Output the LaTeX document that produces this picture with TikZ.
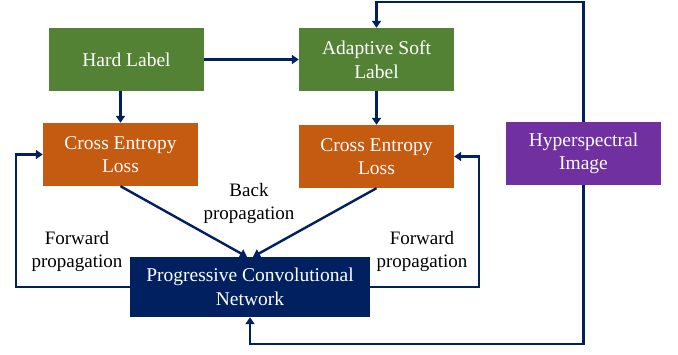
\documentclass[tikz,border=0pt]{standalone}
\usepackage{fontspec}
\setmainfont{Liberation Serif}
\usetikzlibrary{arrows.meta}
\definecolor{labelGreen}{RGB}{84, 130, 53}
\definecolor{lossOrange}{RGB}{197, 90, 17}
\definecolor{hsiPurple}{RGB}{112, 48, 160}
\definecolor{netNavy}{RGB}{0, 32, 96}

\begin{document}
\begin{tikzpicture}[x=1pt, y=-1pt,
    box/.style={text=white, align=center, inner sep=0pt, minimum width=155pt, minimum height=63pt, font=\fontsize{19.5}{23.5}\selectfont},
    flow/.style={netNavy, line width=2.4pt, -{Triangle[width=9pt,length=7pt]}},
    note/.style={align=center, font=\fontsize{19}{23}\selectfont}]
            \useasboundingbox (0,0) rectangle (678,354);

            \node[box, fill=labelGreen] (hard) at (126.5,59.5) {Hard Label};
            \node[box, fill=labelGreen] (adaptive) at (376.5,59.5) {Adaptive Soft\\Label};
            \node[box, fill=lossOrange] (celeft) at (120.5,154.5) {Cross Entropy\\Loss};
            \node[box, fill=lossOrange] (ceright) at (376.5,156.5) {Cross Entropy\\Loss};
            \node[box, fill=hsiPurple] (hsi) at (583.5,153.5) {Hyperspectral\\Image};
            \node[box, fill=netNavy, minimum width=240pt, minimum height=60pt] (pcn) at (250,287) {Progressive Convolutional\\Network};

            \draw[flow] (hard.east) -- (adaptive.west |- hard.east);
            \draw[flow] (hard.south -| celeft.north) -- (celeft.north);
            \draw[flow] (adaptive.south) -- (adaptive.south |- ceright.north);
            \draw[flow] (celeft.south) -- ([xshift=-3pt]pcn.north);
            \draw[flow] (ceright.south) -- ([xshift=3pt]pcn.north);
            \draw[flow] (pcn.west) -- ++(-114,0) |- (celeft.west);
            \draw[flow] (pcn.east) -- ++(109,0) |- (ceright.east);
            \draw[flow] (hsi.north) -- ++(0,-120) -| (adaptive.north);
            \draw[flow] (hsi.south) -- ++(0,159) -| (pcn.south);

            \node[note] (back) at (249,203) {Back\\propagation};
            \node[note] (fwdleft) at (77,251) {Forward\\propagation};
            \node[note] (fwdright) at (422,251) {Forward\\propagation};
        \end{tikzpicture}
\end{document}
